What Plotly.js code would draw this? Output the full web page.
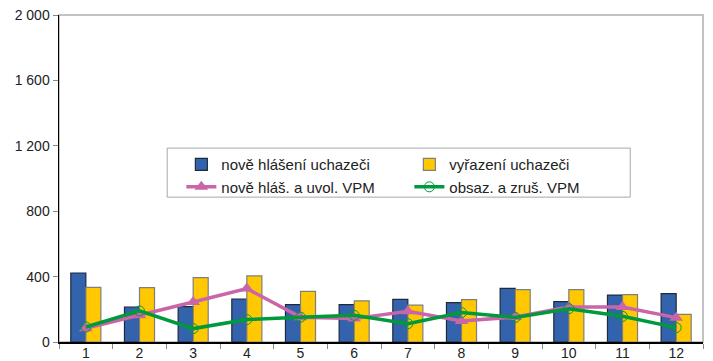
<!DOCTYPE html>
<html>
<head>
<meta charset="utf-8">
<script src="https://cdn.plot.ly/plotly-3.0.1.min.js"></script>
<style>html,body{margin:0;padding:0;background:#fff;}#chart{width:713px;height:361px;}</style>
</head>
<body>
<div id="chart"></div>
<script>
const months = ["1","2","3","4","5","6","7","8","9","10","11","12"];
const noveUchazeci = [422, 214, 216, 263, 229, 229, 261, 241, 328, 247, 287, 296];
const vyrazeniUchazeci = [334, 333, 394, 404, 310, 251, 226, 259, 320, 320, 290, 169];
const noveVPM = [84, 163, 245, 327, 152, 143, 188, 128, 153, 214, 214, 149];
const obsazVPM = [92, 190, 82, 137, 152, 163, 112, 180, 150, 204, 157, 88];
const seriesNames = ["nově hlášení uchazeči", "vyřazení uchazeči", "nově hláš. a uvol. VPM", "obsaz. a zruš. VPM"];
const yTicks = [0, 400, 800, 1200, 1600, 2000];

const font = {family: "Liberation Sans, Arial, sans-serif", size: 14, color: "#222"};
const legendFont = {family: "Liberation Sans, Arial, sans-serif", size: 15, color: "#222"};

const traces = [
  {type: "bar", x: months, y: noveUchazeci, name: seriesNames[0],
   marker: {color: "#3363AD", line: {color: "#1E2A3A", width: 1.2}}},
  {type: "bar", x: months, y: vyrazeniUchazeci, name: seriesNames[1],
   marker: {color: "#FFC800", line: {color: "#7F7F7F", width: 1.2}}},
  {type: "scatter", mode: "lines+markers", x: months, y: noveVPM, name: seriesNames[2],
   line: {color: "#C965A8", width: 3.5},
   marker: {symbol: "triangle-up", size: 12, color: "#C965A8"}},
  {type: "scatter", mode: "lines+markers", x: months, y: obsazVPM, name: seriesNames[3],
   line: {color: "#009A3D", width: 3.5},
   marker: {symbol: "circle-open", size: 10, color: "#009A3D", line: {width: 1}}}
];

const layout = {
  width: 713, height: 361,
  margin: {l: 59, r: 10, t: 15, b: 19, autoexpand: false},
  paper_bgcolor: "#fff", plot_bgcolor: "#fff",
  font: font,
  separators: ", ",
  barmode: "group", bargap: 0.44, bargroupgap: 0,
  showlegend: true,
  legend: {orientation: "h", x: 0.19, y: 0.593, xanchor: "left", yanchor: "top",
    bgcolor: "rgba(0,0,0,0)", borderwidth: 0,
    entrywidth: 183, font: legendFont, tracegroupgap: 0},
  xaxis: {type: "category", range: [-0.5, 11.5], showline: true, linecolor: "#000", linewidth: 1.5,
    ticks: "outside", tickson: "boundaries", ticklen: 5, tickcolor: "#888",
    ticklabelstandoff: -2,
    showgrid: false, tickfont: font, zeroline: false},
  yaxis: {range: [0, 2000], tickvals: yTicks, tickformat: ",d", showline: true,
    linecolor: "#000", linewidth: 1.5, ticks: "outside", ticklen: 5, tickcolor: "#888",
    showgrid: false, zeroline: false, tickfont: font, fixedrange: true},
  shapes: [
    {type: "rect", xref: "paper", yref: "paper", x0: 0, x1: 1, y0: 0, y1: 1,
     line: {color: "#B0B0B0", width: 1.5}, layer: "below"},
    {type: "rect", xref: "paper", yref: "paper", x0: 0.168, x1: 0.887, y0: 0.443, y1: 0.593,
     line: {color: "#A8A8A8", width: 1}, fillcolor: "#fff", layer: "above"}
  ]
};

Plotly.newPlot("chart", traces, layout, {staticPlot: true});
</script>
</body>
</html>
